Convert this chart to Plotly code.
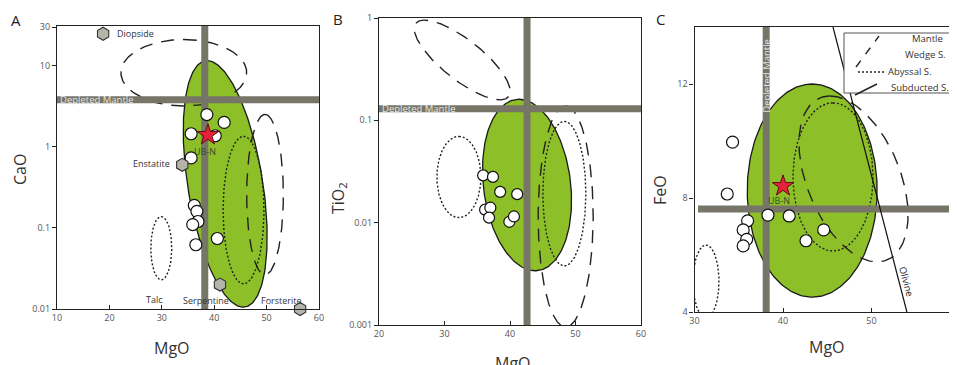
import numpy as np
import plotly.graph_objects as go

# ---------------- data ----------------
# Panel A: MgO vs CaO (log)
A_mgo = [38.6, 41.9, 35.6, 40.2, 35.6, 36.2, 36.7, 36.9, 35.9, 36.5, 40.6]
A_cao = [2.5, 2.0, 1.45, 1.37, 0.73, 0.19, 0.16, 0.12, 0.11, 0.062, 0.074]
A_star = (38.8, 1.4)
A_dm = (38.2, 3.8)  # depleted mantle MgO, CaO
mineral_names = ["Diopside", "Enstatite", "Serpentine", "Talc", "Forsterite"]
mineral_mgo = [18.8, 33.9, 41.1, 29.5, 56.4]
mineral_cao = [24.8, 0.6, 0.02, 0.0095, 0.01]

# Panel B: MgO vs TiO2 (log)
B_mgo = [35.9, 37.4, 38.5, 41.1, 36.2, 37.0, 36.8, 39.9, 40.6]
B_tio2 = [0.029, 0.028, 0.020, 0.019, 0.0134, 0.014, 0.0112, 0.0102, 0.0115]
B_dm = (42.6, 0.13)

# Panel C: MgO vs FeO
C_mgo = [34.3, 33.7, 38.3, 40.7, 36.0, 35.5, 35.9, 35.5, 42.6, 44.6]
C_feo = [9.96, 8.14, 7.40, 7.37, 7.2, 6.88, 6.55, 6.32, 6.5, 6.88]
C_star = (40.0, 8.42)
C_dm = (38.1, 7.61)
olivine_mgo = [45.65, 54.0]
olivine_feo = [14.0, 4.0]

# Field ellipses: centre (x, y or log10 y), conjugate half-diameters u, v
A_fields = {
    "green": (42.1, -0.457, -3.44, 1.52, 7.23, 0.0),
    "dash1": (34.2, 0.914, 0.0, 0.41, 12.0, 0.0),
    "dot1": (45.6, -0.78, 0.0, 0.91, 3.9, 0.0),
    "dash2": (49.7, -0.59, 0.0, 0.99, 3.5, 0.0),
    "dot2": (29.9, -1.25, 0.0, 0.39, 2.0, 0.0),
}
B_fields = {
    "green": (42.6, -1.632, -1.22, 0.838, 6.69, 0.0),
    "dash1": (32.7, -0.41, 7.08, -0.358, -1.89, -0.154),
    "dot1": (32.2, -1.554, 0.0, 0.397, 3.36, 0.0),
    "dot2": (48.3, -1.716, 0.0, 0.706, 3.28, 0.0),
    "dash2": (48.5, -1.94, 0.0, 1.08, 4.2, 0.0),
}
C_fields = {
    "green": (43.3, 8.26, 0.0, 3.74, 7.34, 0.0),
    "dot1": (45.65, 8.74, 0.0, 2.6, 4.52, 0.0),
    "dash1": (47.97, 8.67, -2.66, 2.91, 5.56, 0.0),
    "dot2": (31.3, 5.07, 0.0, 1.28, 1.47, 0.0),
}

# axis ticks
A_xticks = [10, 20, 30, 40, 50, 60]
A_yticks = [0.01, 0.1, 1, 10, 30]
A_ytext = ["0.01", "0.1", "1", "10", "30"]
B_xticks = [20, 30, 40, 50, 60]
B_yticks = [0.001, 0.01, 0.1, 1]
B_ytext = ["0.001", "0.01", "0.1", "1"]
C_xticks = [30, 40, 50, 60]
C_yticks = [4, 8, 12]

# ---------------- style ----------------
W, H = 957, 365
OFF = 8  # page body margin in the browser
GREEN = "#8dbf28"
BAR = "#767568"
FONT = "Open Sans"
TICKC = "#555555"

fig = go.Figure()


def ell(p, log):
    cx, cy, ux, uy, vx, vy = p
    t = np.linspace(0, 2 * np.pi, 241)
    x = cx + ux * np.cos(t) + vx * np.sin(t)
    y = cy + uy * np.cos(t) + vy * np.sin(t)
    if log:
        y = 10 ** y
    return x, y


def add_fields(fields, xa, ya, log):
    for k, p in fields.items():
        x, y = ell(p, log)
        if k == "green":
            fig.add_trace(go.Scatter(x=x, y=y, mode="lines", fill="toself",
                                     fillcolor=GREEN, line=dict(color="#1a1a1a", width=1.3),
                                     xaxis=xa, yaxis=ya, hoverinfo="skip"))
    for k, p in fields.items():
        if k == "green":
            continue
        x, y = ell(p, log)
        dash = "13px,9px" if k.startswith("dash") else "2px,2px"
        fig.add_trace(go.Scatter(x=x, y=y, mode="lines",
                                 line=dict(color="#222222", width=1.4, dash=dash),
                                 xaxis=xa, yaxis=ya, hoverinfo="skip"))


def add_bars(dm, xr, yr, xa, ya, xstart=None):
    x0 = xr[0] if xstart is None else xstart
    fig.add_trace(go.Scatter(x=[dm[0], dm[0]], y=[yr[0], yr[1]], mode="lines",
                             line=dict(color=BAR, width=7), xaxis=xa, yaxis=ya, hoverinfo="skip"))
    fig.add_trace(go.Scatter(x=[x0, xr[1]], y=[dm[1], dm[1]], mode="lines",
                             line=dict(color=BAR, width=7), xaxis=xa, yaxis=ya, hoverinfo="skip"))


def add_points(x, y, xa, ya, size=12):
    fig.add_trace(go.Scatter(x=x, y=y, mode="markers",
                             marker=dict(symbol="circle", size=size, color="white",
                                         line=dict(color="#111111", width=1.2)),
                             xaxis=xa, yaxis=ya, hoverinfo="skip"))


def add_star(p, xa, ya):
    fig.add_trace(go.Scatter(x=[p[0]], y=[p[1]], mode="markers",
                             marker=dict(symbol="star", size=16, color="#e8213a",
                                         line=dict(color="#5a1010", width=1)),
                             xaxis=xa, yaxis=ya, hoverinfo="skip"))


# ---- Panel A ----
A_xr = [10, 60]
A_yr_log = [-2, 1.49]
add_fields(A_fields, "x", "y", True)
add_bars(A_dm, A_xr, [10 ** A_yr_log[0], 10 ** A_yr_log[1]], "x", "y")
add_points(A_mgo, A_cao, "x", "y", size=12)
add_star(A_star, "x", "y")
fig.add_trace(go.Scatter(x=mineral_mgo, y=mineral_cao, mode="markers", cliponaxis=False,
                         marker=dict(symbol="hexagon", size=13, color="#b5b4aa",
                                     line=dict(color="#333333", width=1.1)),
                         xaxis="x", yaxis="y", hoverinfo="skip"))

# ---- Panel B ----
B_xr = [20, 60]
B_yr_log = [-3, 0]
add_fields(B_fields, "x2", "y2", True)
add_bars(B_dm, B_xr, [10 ** B_yr_log[0], 10 ** B_yr_log[1]], "x2", "y2")
add_points(B_mgo, B_tio2, "x2", "y2", size=11)

# ---- Panel C ----
C_xr = [30, 60]
C_yr = [4, 14]
add_fields(C_fields, "x3", "y3", False)
add_bars(C_dm, C_xr, C_yr, "x3", "y3", xstart=30.4)
fig.add_trace(go.Scatter(x=olivine_mgo, y=olivine_feo, mode="lines",
                         line=dict(color="#111111", width=1.2), xaxis="x3", yaxis="y3",
                         hoverinfo="skip"))
add_points(C_mgo, C_feo, "x3", "y3", size=12)
add_star(C_star, "x3", "y3")


def px(xp):
    return (xp - OFF) / W


def py(yp):
    return (H - (yp - OFF)) / H


axis_common = dict(showline=True, mirror=True, linecolor="#222222", linewidth=1.2,
                   ticklen=4, tickcolor="#222222", showgrid=False, automargin=False,
                   zeroline=False, tickfont=dict(family=FONT, size=9, color=TICKC))

fig.update_layout(
    width=W, height=H, margin=dict(l=0, r=0, t=0, b=0, pad=0), autosize=False,
    paper_bgcolor="white", plot_bgcolor="white", showlegend=False,
    xaxis=dict(domain=[px(57), px(319)], range=A_xr, tickvals=A_xticks, anchor="y",
               ticks="inside", **axis_common),
    yaxis=dict(domain=[py(309), py(26)], type="log", range=A_yr_log, tickvals=A_yticks,
               ticktext=A_ytext, anchor="x", ticks="outside", **axis_common),
    xaxis2=dict(domain=[px(379), px(641)], range=B_xr, tickvals=B_xticks, anchor="y2",
                ticks="inside", **axis_common),
    yaxis2=dict(domain=[py(325), py(18)], type="log", range=B_yr_log, tickvals=B_yticks,
                ticktext=B_ytext, anchor="x2", ticks="outside", **axis_common),
    xaxis3=dict(domain=[px(694.5), px(960)], range=C_xr, tickvals=C_xticks, anchor="y3",
                ticks="inside", **axis_common),
    yaxis3=dict(domain=[py(312), py(27)], range=C_yr, tickvals=C_yticks, anchor="x3",
                ticks="outside", **axis_common),
)

ann = []


def text(x, y, s, size=9, color="#333333", xanchor="center", yanchor="middle",
         xref="paper", yref="paper", angle=0):
    ann.append(dict(x=x, y=y, text=s, showarrow=False, xref=xref, yref=yref,
                    xanchor=xanchor, yanchor=yanchor, textangle=angle,
                    font=dict(family=FONT, size=size, color=color)))


# panel letters
text(px(16), py(20), "A", size=15, color="#222222")
text(px(338), py(19), "B", size=15, color="#222222")
text(px(660), py(19), "C", size=15, color="#222222")

# axis titles
text(px(20), py(170), "CaO", size=16, color="#333333", angle=-90)
text(px(172), py(348), "MgO", size=16, color="#333333")
text(px(338), py(198), "TiO<sub>2</sub>", size=16, color="#333333", angle=-90)
text(px(513), py(350), "MgO", size=16, color="#333333", yanchor="top")
text(px(660), py(190), "FeO", size=16, color="#333333", angle=-90)
text(px(827), py(347), "MgO", size=16, color="#333333")

# mineral labels (panel A, log y in annotation coordinates)
mineral_lab = {
    "Diopside": (21.0, 24.8, "left"),
    "Enstatite": (31.9, 0.62, "right"),
    "Serpentine": (38.4, 0.0128, "center"),
    "Talc": (28.6, 0.013, "center"),
    "Forsterite": (52.9, 0.0128, "center"),
}
for name in mineral_names:
    lx, ly, xa = mineral_lab[name]
    text(lx, np.log10(ly), name, size=9, xref="x", yref="y", xanchor=xa)

# UB-N labels
text(A_star[0] - 0.5, np.log10(A_star[1]) - 0.2, "UB-N", size=9, color="#3b4a2a", xref="x", yref="y")
text(C_star[0] - 0.5, C_star[1] - 0.5, "UB-N", size=9, color="#3b4a2a", xref="x3", yref="y3")

# depleted mantle labels
text(10.2, np.log10(A_dm[1]), "Depleted Mantle", size=9.5, color="#e6e6e0", xref="x", yref="y",
     xanchor="left")
text(20.2, np.log10(B_dm[1]), "Depleted Mantle", size=9.5, color="#e6e6e0", xref="x2", yref="y2",
     xanchor="left")
text(C_dm[0], 12.3, "Depleted Mantle", size=9.5, color="#e6e6e0", xref="x3", yref="y3",
     angle=-90)

# olivine label
text(54.0, 5.05, "Olivine", size=9.5, color="#222222", xref="x3", yref="y3", angle=75)

# legend (panel C)
text(px(945), py(39), "Mantle", size=9.5, xanchor="right")
text(px(948), py(54), "Wedge S.", size=9.5, xanchor="right")
text(px(886), py(72), "Abyssal S.", size=9.5, xanchor="left")
text(px(889), py(87), "Subducted S.", size=9.5, xanchor="left")

fig.update_layout(annotations=ann)

shapes = [
    dict(type="rect", xref="paper", yref="paper", x0=px(844), x1=px(966), y0=py(93), y1=py(33),
         line=dict(color="#555555", width=1), fillcolor="white", layer="above"),
    dict(type="line", xref="paper", yref="paper", x0=px(856), y0=py(67), x1=px(879), y1=py(36),
         line=dict(color="#222222", width=1.4, dash="8px,8px"), layer="above"),
    dict(type="line", xref="paper", yref="paper", x0=px(858), y0=py(72), x1=px(884), y1=py(72),
         line=dict(color="#222222", width=1.4, dash="2px,2px"), layer="above"),
    dict(type="line", xref="paper", yref="paper", x0=px(855), y0=py(95), x1=px(877), y1=py(84),
         line=dict(color="#222222", width=1.4), layer="above"),
]
fig.update_layout(shapes=shapes)

fig.write_html("out.html")
